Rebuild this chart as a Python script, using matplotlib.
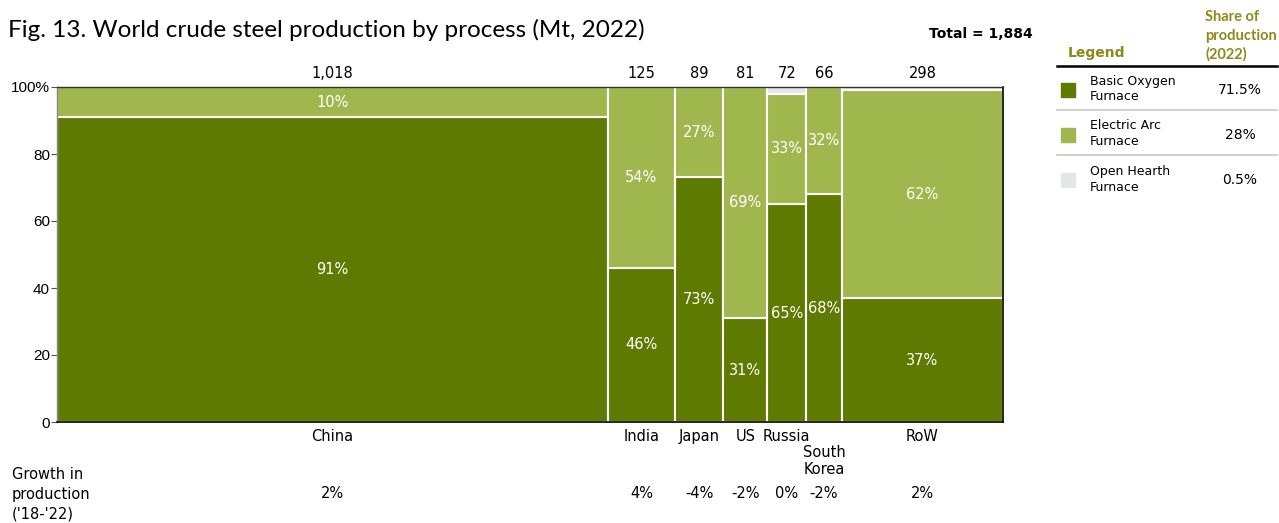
import matplotlib
matplotlib.use('Agg')
import matplotlib.pyplot as plt
import matplotlib.transforms as mtransforms
from matplotlib.patches import Rectangle
from matplotlib.lines import Line2D

# Production by country (Mt, 2022) and process split (% of each country)
countries = ['China', 'India', 'Japan', 'US', 'Russia', 'South\nKorea', 'RoW']
production = [1018, 125, 89, 81, 72, 66, 298]
bof_share = [91, 46, 73, 31, 65, 68, 37]
eaf_share = [10, 54, 27, 69, 33, 32, 62]
ohf_share = [0, 0, 0, 0, 2, 0, 1]
growth = ['2%', '4%', '-4%', '-2%', '0%', '-2%', '2%']

processes = ['Basic Oxygen\nFurnace', 'Electric Arc\nFurnace', 'Open Hearth\nFurnace']
world_share = ['71.5%', '28%', '0.5%']
total_label = 'Total = 1,884'

BOF_COLOR = '#5e7a00'
EAF_COLOR = '#a0b74e'
OHF_COLOR = '#e3e7e8'
HEAD_COLOR = '#8c8a1a'
proc_colors = [BOF_COLOR, EAF_COLOR, OHF_COLOR]

plt.rcParams['font.family'] = ['DejaVu Sans']

fig = plt.figure(figsize=(12.79, 5.23), dpi=100)
W, H = 1279, 523
ax = fig.add_axes([57 / W, 1 - 422 / H, 946 / W, 335 / H])

# Marimekko bars: width = production, stacked process shares
lefts = []
x = 0
for p in production:
    lefts.append(x)
    x += p
total_width = x
centers = [l + p / 2 for l, p in zip(lefts, production)]

ax.bar(lefts, bof_share, width=production, align='edge', color=BOF_COLOR,
       edgecolor='white', linewidth=1.5)
ax.bar(lefts, eaf_share, width=production, bottom=bof_share, align='edge',
       color=EAF_COLOR, edgecolor='white', linewidth=1.5)
eaf_top = [b + e for b, e in zip(bof_share, eaf_share)]
ax.bar(lefts, ohf_share, width=production, bottom=eaf_top, align='edge',
       color=OHF_COLOR, edgecolor='white', linewidth=1.5)

# percentage labels inside the segments
for c, b, e in zip(centers, bof_share, eaf_share):
    ax.text(c, b / 2, f'{b}%', color='white', ha='center', va='center', fontsize=10.5)
    ax.text(c, b + min(e, 100 - b) / 2, f'{e}%', color='white', ha='center',
            va='center', fontsize=10.5)

ax.set_xlim(0, total_width)
ax.set_ylim(0, 100)
ax.set_xticks([])
ax.set_yticks([0, 20, 40, 60, 80, 100])
ax.set_yticklabels(['0', '20', '40', '60', '80', '100%'], family='Liberation Sans',
                   fontsize=11)
ax.tick_params(axis='y', length=4, width=0.8, color='#555555', pad=1)

for side in ['right', 'bottom']:
    ax.spines[side].set_color('black')
    ax.spines[side].set_linewidth(1.2)
ax.spines['top'].set_color('#333333')
ax.spines['top'].set_linewidth(1.0)
ax.spines['left'].set_color('#888888')
ax.spines['left'].set_linewidth(1.0)

trans = mtransforms.blended_transform_factory(ax.transData, fig.transFigure)

def fy(py):
    return 1 - py / H

# production above bars, country names below, growth row at the bottom
for c, p, name, g in zip(centers, production, countries, growth):
    ax.text(c, fy(73), f'{p:,}', transform=trans, ha='center', va='center', fontsize=10.5)
    if '\n' in name:
        ax.add_line(Line2D([c, c], [fy(427), fy(441)], transform=trans,
                           color='black', linewidth=1))
        ax.text(c, fy(461), name, transform=trans, ha='center', va='center',
                fontsize=10.5, linespacing=1.2)
    else:
        ax.text(c, fy(441), name, transform=trans, ha='center', va='baseline',
                fontsize=10.5)
    ax.text(c, fy(494), g, transform=trans, ha='center', va='center', fontsize=10.5)

fig.text(12 / W, fy(494), "Growth in\nproduction\n('18-'22)", ha='left', va='center',
         fontsize=10.5, linespacing=1.38)

fig.text(8 / W, fy(30), 'Fig. 13. World crude steel production by process (Mt, 2022)',
         ha='left', va='center', fontsize=17.5, family='Lato')
fig.text(981 / W, fy(34), total_label, ha='center', va='center', fontsize=10,
         fontweight='bold')

# legend table on the right
fig.text(1068 / W, fy(53), 'Legend', ha='left', va='center', fontsize=10,
         fontweight='bold', color=HEAD_COLOR)
fig.text(1205 / W, fy(36), 'Share of\nproduction\n(2022)', ha='left', va='center',
         fontsize=10.5, fontweight='bold', color=HEAD_COLOR, linespacing=1.38,
         family='Lato')
fig.add_artist(Line2D([1057 / W, 1 - 2 / W], [fy(66), fy(66)], color='black', linewidth=1.8))
for i, (name, share, col) in enumerate(zip(processes, world_share, proc_colors)):
    yc = 89 + i * 45
    fig.add_artist(Rectangle((1061 / W, fy(yc + 8)), 14 / W, 14 / H, color=col))
    fig.text(1090 / W, fy(yc), name, ha='left', va='center', fontsize=9,
             linespacing=1.3)
    fig.text(1240 / W, fy(yc + 1), share, ha='center', va='center', fontsize=10)
    if i < 2:
        fig.add_artist(Line2D([1057 / W, 1 - 2 / W], [fy(yc + 21), fy(yc + 21)],
                              color='#c8c8c8', linewidth=1.2))

fig.savefig('out.png', dpi=100)
